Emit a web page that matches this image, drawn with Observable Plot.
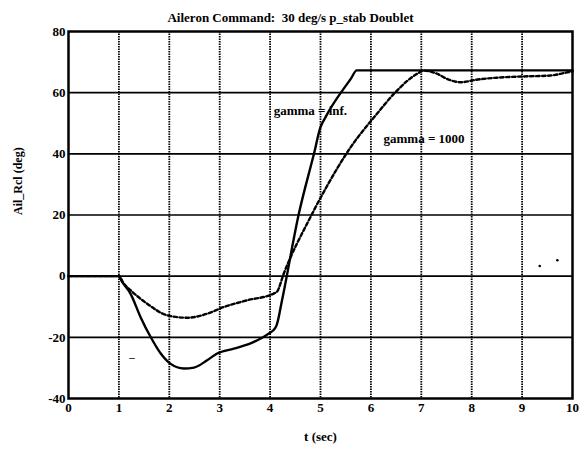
<!DOCTYPE html>
<html>
<head>
<meta charset="utf-8">
<script src="https://cdn.jsdelivr.net/npm/d3@7"></script>
<script src="https://cdn.jsdelivr.net/npm/@observablehq/plot@0.6"></script>
<style>
  html, body { margin: 0; padding: 0; background: white; }
</style>
</head>
<body>
<div id="chart"></div>
<script>
const titleText = "Aileron Command:  30 deg/s p_stab Doublet";
const xLabel = "t (sec)";
const yLabel = "Ail_Rcl (deg)";
const xTicks = [0, 1, 2, 3, 4, 5, 6, 7, 8, 9, 10];
const yTicks = [-40, -20, 0, 20, 40, 60, 80];

// gamma = inf. (solid)
const timeInf  = [0, 0.95, 1, 1.05, 1.23, 1.43, 1.63, 1.83, 2.02, 2.29, 2.49, 2.75, 2.95, 3.28, 3.68, 3.97, 4.1, 4.13, 4.24, 4.57, 4.87, 5.0, 5.1, 5.6, 5.72, 5.8, 10];
const angleInf = [0, 0, 0, -1.5, -5.7, -13.4, -19.9, -25.3, -28.6, -30.2, -29.9, -27.5, -25.3, -23.7, -21.5, -18.8, -17, -16, -7.6, 20.4, 40, 48.7, 52, 64.5, 67.3, 67.3, 67.3];

// gamma = 1000 (dashed)
const timeG  = [0, 0.95, 1, 1.1, 1.23, 1.56, 1.96, 2.35, 2.75, 3.08, 3.54, 4.07, 4.14, 4.27, 4.8, 5.1, 5.6, 6.12, 6.49, 6.92, 7.05, 7.31, 7.51, 7.78, 8.08, 8.5, 9.03, 9.56, 9.83, 10];
const angleG = [0, 0, 0, -2.5, -4.6, -9, -12.8, -13.6, -12.3, -10.1, -7.9, -5.7, -5.0, 0.8, 19.3, 28.6, 42.2, 53.1, 60.2, 66.2, 67.2, 66.2, 64.5, 63.4, 64.2, 64.9, 65.3, 65.6, 66.4, 67];

const labelNames = ["gamma = inf.", "gamma = 1000"];
const labelT = [4.07, 6.25];
const labelY = [53.9, 45.0];

// scan specks
const speckT = [9.35, 9.7];
const speckY = [3.3, 5.2];
const dashT = [1.26];
const dashY = [-26.6];

const inf = timeInf.map((t, i) => ({t, v: angleInf[i]}));
const g1000 = timeG.map((t, i) => ({t, v: angleG[i]}));
const labels = labelNames.map((s, i) => ({s, t: labelT[i], v: labelY[i]}));
const specks = speckT.map((t, i) => ({t, v: speckY[i]}));
const dashes = dashT.map((t, i) => ({t, v: dashY[i]}));

const chart = Plot.plot({
  width: 584,
  height: 451,
  marginLeft: 68,
  marginRight: 12,
  marginTop: 31,
  marginBottom: 53,
  style: {fontFamily: "'Liberation Serif', 'DejaVu Serif', serif", fontWeight: "bold", fontSize: "13px", color: "black", background: "white", overflow: "visible"},
  x: {domain: [0, 10], ticks: xTicks, tickSize: 0, tickPadding: 4, tickFormat: d => String(d), label: null},
  y: {domain: [-40, 80], ticks: yTicks, tickSize: 0, tickPadding: 3, tickFormat: d => String(d), label: null},
  marks: [
    Plot.ruleX(xTicks.slice(1, -1), {stroke: "black", strokeWidth: 1.8, strokeDasharray: "1.5,1"}),
    Plot.ruleY(yTicks.slice(1, -1), {stroke: "black", strokeWidth: 1.7}),
    Plot.frame({stroke: "black", strokeWidth: 2.5}),
    Plot.line(g1000, {x: "t", y: "v", stroke: "black", strokeWidth: 2.4, strokeDasharray: "3.5,2.5", curve: "monotone-x"}),
    Plot.line(inf, {x: "t", y: "v", stroke: "black", strokeWidth: 2.4, curve: "monotone-x"}),
    Plot.text(labels, {x: "t", y: "v", text: "s", textAnchor: "start", fontSize: 13, fontWeight: "bold", fill: "black"}),
    Plot.dot(specks, {x: "t", y: "v", r: 1.3, fill: "black", stroke: null}),
    Plot.text(dashes, {x: "t", y: "v", text: () => "\u2013", fontSize: 11, fill: "black"}),
    Plot.text([titleText], {frameAnchor: "top", dy: -19, dx: -30, fontSize: 13, fontWeight: "bold", fill: "black"}),
    Plot.text([xLabel], {frameAnchor: "bottom", dy: 42, fontSize: 13, fontWeight: "bold", fill: "black"}),
    Plot.text([yLabel], {frameAnchor: "left", dx: -50, rotate: -90, fontSize: 12, fontWeight: "bold", fill: "black"})
  ]
});
document.getElementById("chart").appendChild(chart);
</script>
</body>
</html>
